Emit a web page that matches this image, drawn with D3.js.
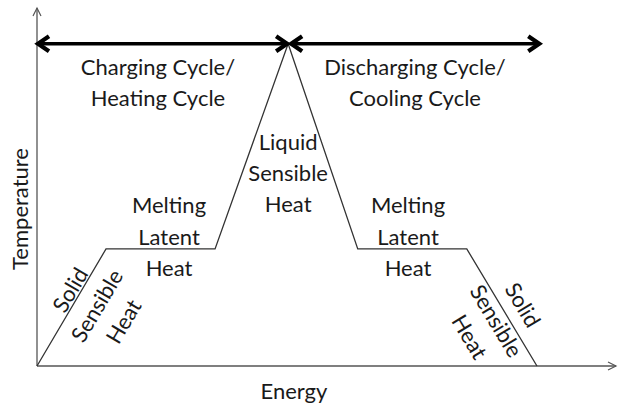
<!DOCTYPE html>
<html>
<head>
<meta charset="utf-8">
<script src="https://cdn.jsdelivr.net/npm/d3@7"></script>
<style>
  body { margin: 0; background: #fff; }
  text { font-family: Lato, "Open Sans", sans-serif; fill: #1a1a1a; }
</style>
</head>
<body>
<div id="chart"></div>
<script>
// Phase change diagram: temperature vs energy
const W = 618, H = 408;

// curve vertices (arbitrary units)
const energy = [0, 1.19, 3.07, 4.33, 5.53, 7.41, 8.62];
const temperature = [0, 3.27, 3.27, 9.0, 3.27, 3.27, 0];

// cycle arrows: [start, end] in energy units, at peak temperature
const cycleNames = ["Charging Cycle/\nHeating Cycle", "Discharging Cycle/\nCooling Cycle"];
const cycleSpans = [[0, 4.33], [4.33, 8.66]];
const cycleLevel = 9.0;

const axisLabels = { x: "Energy", y: "Temperature" };

const svg = d3.select("#chart").append("svg")
  .attr("width", W).attr("height", H);

const x = d3.scaleLinear().domain([0, 10]).range([37, 617]);
const y = d3.scaleLinear().domain([0, 10]).range([366, 8]);

const axisColor = "#555";
const lineColor = "#333";

// axes with open arrowheads
svg.append("line")
  .attr("x1", x(0)).attr("y1", y(0)).attr("x2", x(0)).attr("y2", y(10))
  .attr("stroke", axisColor).attr("stroke-width", 1.3);
svg.append("path")
  .attr("d", `M${x(0) - 4},${y(10) + 8}L${x(0)},${y(10)}L${x(0) + 4},${y(10) + 8}`)
  .attr("fill", "none").attr("stroke", axisColor).attr("stroke-width", 1.2);

svg.append("line")
  .attr("x1", x(0)).attr("y1", y(0)).attr("x2", x(10) - 1).attr("y2", y(0))
  .attr("stroke", axisColor).attr("stroke-width", 1.3);
svg.append("path")
  .attr("d", `M${x(10) - 9},${y(0) - 4}L${x(10) - 1},${y(0)}L${x(10) - 9},${y(0) + 4}`)
  .attr("fill", "none").attr("stroke", axisColor).attr("stroke-width", 1.2);

// phase curve
const pts = energy.map((e, i) => [e, temperature[i]]);
svg.append("path")
  .datum(pts)
  .attr("d", d3.line().x(d => x(d[0])).y(d => y(d[1])))
  .attr("fill", "none")
  .attr("stroke", lineColor)
  .attr("stroke-width", 1.3);

// double-headed cycle arrows
function chevron(tipX, tipY, dir) {
  return `M${tipX - dir * 11},${tipY - 7.5}L${tipX},${tipY}L${tipX - dir * 11},${tipY + 7.5}`;
}
cycleSpans.forEach(([a, b], i) => {
  const x1 = x(a) + (i === 1 ? 3 : 1), x2 = x(b) - (i === 0 ? 1 : 0);
  const yy = y(cycleLevel);
  svg.append("line")
    .attr("x1", x1 + 2).attr("x2", x2 - 2).attr("y1", yy).attr("y2", yy)
    .attr("stroke", "#000").attr("stroke-width", 3.5);
  svg.append("path").attr("d", chevron(x1, yy, -1))
    .attr("fill", "none").attr("stroke", "#000").attr("stroke-width", 4.2)
    .attr("stroke-linejoin", "miter");
  svg.append("path").attr("d", chevron(x2, yy, 1))
    .attr("fill", "none").attr("stroke", "#000").attr("stroke-width", 4.2)
    .attr("stroke-linejoin", "miter");
});

// multi-line label helper
function label(txt, cx, cy, angle, lineH) {
  const lines = txt.split("\n");
  const g = svg.append("g")
    .attr("transform", `translate(${cx},${cy}) rotate(${angle})`);
  lines.forEach((l, i) => {
    g.append("text")
      .attr("x", 0)
      .attr("y", i * lineH)
      .attr("text-anchor", "middle")
      .attr("font-size", 22)
      .text(l);
  });
}

label(cycleNames[0], 158, 75, 0, 31);
label(cycleNames[1], 415, 75, 0, 31);
label("Liquid\nSensible\nHeat", x(energy[3]), 150, 0, 31);
label("Melting\nLatent\nHeat", 169, 213, 0, 31.5);
label("Melting\nLatent\nHeat", 408, 213, 0, 31.5);

// rotated labels along the solid sensible heat slopes
const slopeL = Math.atan2(y(temperature[0]) - y(temperature[1]), x(energy[1]) - x(energy[0])) * 180 / Math.PI;
const slopeR = Math.atan2(y(temperature[6]) - y(temperature[5]), x(energy[6]) - x(energy[5])) * 180 / Math.PI;
label("Solid\nSensible\nHeat", 77, 294, -slopeL, 31);
label("Solid\nSensible\nHeat", 516, 309, slopeR, 31);

// axis titles
svg.append("text")
  .attr("x", 294).attr("y", 399)
  .attr("text-anchor", "middle").attr("font-size", 22)
  .text(axisLabels.x);
svg.append("text")
  .attr("transform", "translate(28,209) rotate(-90)")
  .attr("text-anchor", "middle").attr("font-size", 22)
  .text(axisLabels.y);
</script>
</body>
</html>
